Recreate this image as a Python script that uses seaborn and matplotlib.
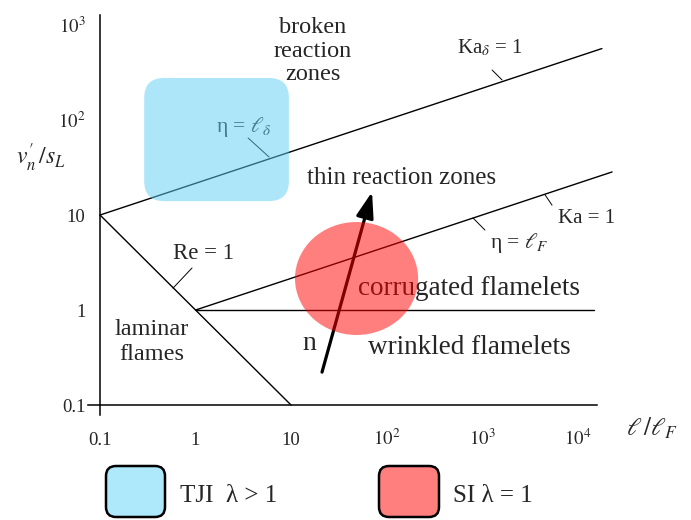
import numpy as np
import pandas as pd
import seaborn as sns
import matplotlib.pyplot as plt
from matplotlib.patches import FancyBboxPatch, Ellipse

# Regime boundaries of the diagram (l/lF, v'/sL)
re_x = [0.1, 10]
re_y = [10, 0.1]
ka_delta_x = [0.1, 18000]
ka_delta_y = [10, 565]
ka_x = [1, 23000]
ka_y = [1, 28.4]
flamelet_x = [1, 15000]
flamelet_y = [1, 1]

# Operating regions: TJI box and SI ellipse (data bounds)
tji_x = [0.29, 9.5]
tji_y = [14, 277]
si_x = [11, 214]
si_y = [0.546, 8.44]

# "n" direction arrow
arrow_start = (21.1, 0.222)
arrow_end = (70.5, 17.5)

x_ticks = [0.1, 1, 10, 100, 1000, 10000]
x_labels = ["0.1", "1", "10", "$10^2$", "$10^3$", "$10^4$"]
y_ticks = [0.1, 1, 10, 100, 1000]
y_labels = ["0.1", "1", "10", "$10^2$", "$10^3$"]

sns.set_style("white")
plt.rcParams["font.family"] = ["Liberation Serif", "DejaVu Serif"]
plt.rcParams["mathtext.fontset"] = "stix"

W, H = 691, 520
fig = plt.figure(figsize=(W / 100, H / 100), dpi=100)
ax = fig.add_axes([0.1268, 0.2010, 0.7643, 0.7692])
ax.set_xscale("log")
ax.set_yscale("log")
xlim = (10 ** -1.13, 10 ** 4.4)
ylim = (10 ** -1.11, 10 ** 3.1)
ax.set_xlim(*xlim)
ax.set_ylim(*ylim)

lines = pd.concat([
    pd.DataFrame({"x": re_x, "y": re_y, "line": "Re"}),
    pd.DataFrame({"x": ka_delta_x, "y": ka_delta_y, "line": "Ka_delta"}),
    pd.DataFrame({"x": ka_x, "y": ka_y, "line": "Ka"}),
    pd.DataFrame({"x": flamelet_x, "y": flamelet_y, "line": "flamelet"}),
])
sns.lineplot(data=lines, x="x", y="y", units="line", estimator=None, sort=False,
             color="black", lw=1.0, ax=ax, legend=False)

# leader lines for the boundary labels
for lx, ly in [([3.55, 5.89], [64.7, 40.8]), ([1274, 1620], [336, 264]),
               ([4571, 5405], [16.3, 12.7]), ([805, 1072], [9.3, 6.95]),
               ([0.919, 0.581], [2.77, 1.70])]:
    ax.plot(lx, ly, color="black", lw=0.7)

ax.annotate("", xy=arrow_end, xytext=arrow_start,
            arrowprops=dict(arrowstyle="-|>,head_length=0.65,head_width=0.22",
                            color="black", lw=2.3,
                            mutation_scale=24, shrinkA=0, shrinkB=0))

# labels
for txt, yy in [("broken", 824), ("reaction", 460), ("zones", 264)]:
    ax.text(17, yy, txt, fontsize=17.5, ha="center", va="baseline")
ax.text(547, 507, r"Ka$_\delta$ = 1", fontsize=15, va="baseline")
ax.text(6250, 8.24, "Ka = 1", fontsize=15, va="baseline")
ax.text(1213, 4.5, r"η = $\ell_F$", fontsize=15.5, va="baseline")
ax.text(1.64, 74.8, r"η = $\ell_\delta$", fontsize=15.5, va="baseline")
ax.text(0.581, 3.44, "Re = 1", fontsize=16.5, va="baseline")
ax.text(0.351, 0.546, "laminar", fontsize=17.5, ha="center", va="baseline")
ax.text(0.351, 0.298, "flames", fontsize=17.5, ha="center", va="baseline")
ax.text(13.0, 0.379, "n", fontsize=20, va="baseline")
ax.text(14.7, 21.2, "thin reaction zones", fontsize=18, va="baseline")
ax.text(50.1, 1.44, "corrugated flamelets", fontsize=19.5, va="baseline")
ax.text(64, 0.344, "wrinkled flamelets", fontsize=19.5, va="baseline")

# axes styling
for side in ["top", "right"]:
    ax.spines[side].set_visible(False)
ax.spines["left"].set_position(("data", 0.1))
ax.spines["bottom"].set_position(("data", 0.1))
ax.spines["bottom"].set_bounds(xlim[0], 15800)
for side in ["left", "bottom"]:
    ax.spines[side].set_linewidth(1.1)
    ax.spines[side].set_color("black")
ax.set_xticks(x_ticks)
ax.set_xticklabels(x_labels)
ax.set_yticks(y_ticks)
ax.set_yticklabels(y_labels)
ax.minorticks_off()
ax.tick_params(axis="x", direction="out", length=5, width=1, pad=24, labelsize=13.5)
ax.tick_params(axis="y", direction="out", length=3.6, width=1, pad=7, labelsize=13.5)
for lbl in ax.get_xticklabels():
    lbl.set_va("baseline")
ax.set_xlabel("")
ax.set_ylabel("")

fig.text(41 / W, 1 - 158 / H, r"$v_n^{\prime}\,/s_L$", fontsize=17, ha="center", va="center")
fig.text(652 / W, 1 - 428 / H, r"$\ell\,/\ell_F$", fontsize=18, ha="center", va="center")

# overlay in pixel units for the translucent regions and the legend
ov = fig.add_axes([0, 0, 1, 1], zorder=10)
ov.set_xlim(0, W)
ov.set_ylim(H, 0)
ov.axis("off")
ov.patch.set_alpha(0)


def to_px(x, y):
    return ov.transData.inverted().transform(ax.transData.transform((x, y)))


bx0, by0 = to_px(tji_x[0], tji_y[1])
bx1, by1 = to_px(tji_x[1], tji_y[0])
ov.add_patch(FancyBboxPatch((bx0, by0), bx1 - bx0, by1 - by0,
                            boxstyle="round,pad=0,rounding_size=20",
                            facecolor="#5dcdf5", edgecolor="none", alpha=0.5))
ex0, ey0 = to_px(si_x[0], si_y[1])
ex1, ey1 = to_px(si_x[1], si_y[0])
ov.add_patch(Ellipse(((ex0 + ex1) / 2, (ey0 + ey1) / 2), ex1 - ex0, ey1 - ey0,
                     facecolor="#ff0000", edgecolor="none", alpha=0.5))

# legend
ov.add_patch(FancyBboxPatch((106, 466), 59, 51, boxstyle="round,pad=0,rounding_size=10",
                            facecolor="#aee8fb", edgecolor="black", lw=1.8))
ov.add_patch(FancyBboxPatch((379, 466), 60, 51, boxstyle="round,pad=0,rounding_size=10",
                            facecolor="#ff7f7f", edgecolor="black", lw=1.8))
ov.text(180, 502, "TJI  λ > 1", fontsize=18, va="baseline")
ov.text(453, 502, "SI λ = 1", fontsize=18, va="baseline")

fig.savefig("out.png", dpi=100)
